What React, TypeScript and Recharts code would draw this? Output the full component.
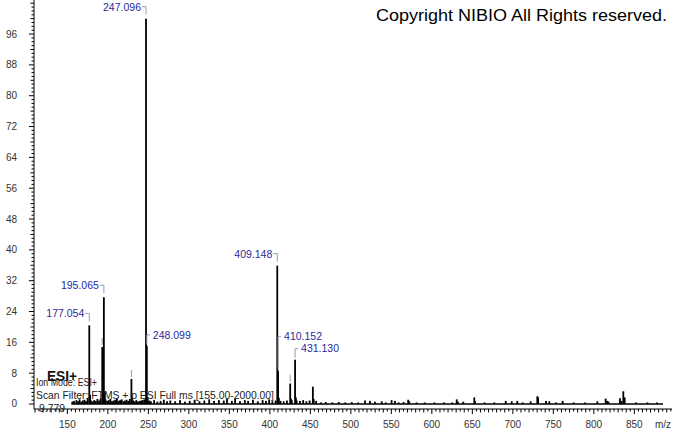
import React from "react";
import { Bar, BarChart, ReferenceLine, XAxis, YAxis } from "recharts";

// m/z of every centroid peak in the scan
const peakMz = [
  156.1, 158.1, 161.1, 163.1, 165.1, 167.1, 169.1, 171.1, 173.1, 175.07,
  177.054, 178.06, 179.07, 181.1, 183.1, 185.1, 187.1, 189.1, 191.1, 193.07,
  194.07, 195.065, 196.07, 197.08, 199.1, 201.1, 203.1, 205.1, 207.1, 209.1,
  211.1, 213.1, 215.1, 217.1, 219.1, 221.1, 223.1, 225.1, 227.1, 229.08,
  230.08, 231.1, 233.1, 235.1, 237.1, 239.1, 241.1, 243.1, 245.1, 247.096,
  248.099, 249.1, 251.1, 253.1, 257.1, 261.1, 265.1, 269.1, 273.1, 277.1,
  283.1, 289.1, 295.1, 301.1, 307.1, 313.1, 319.1, 325.1, 331.1, 337.1,
  343.1, 347.1, 353.1, 357.1, 363.1, 369.1, 373.1, 379.1, 385.1, 391.1,
  395.1, 399.1, 403.1, 407.1, 409.148, 410.152, 411.15, 413.1, 417.1, 421.1,
  425.1, 426.1, 427.1, 431.13, 432.13, 433.1, 437.1, 441.1, 445.1, 449.1,
  453.1, 454.1, 457.1, 463.1, 469.1, 477.1, 485.1, 493.1, 501.1, 509.1,
  517.5, 523.6, 529.8, 538.1, 543.1, 550.3, 554.4, 559.1, 565.1, 570.8,
  572.1, 581.1, 591.1, 603.1, 615.1, 625.1, 630.7, 632.1, 638.8, 652.4,
  653.4, 665.1, 677.1, 691.2, 698.6, 705.5, 712.1, 722.0, 730.2, 731.2,
  741.0, 745.0, 753.1, 761.5, 775.1, 789.1, 804.3, 814.6, 816.6, 818.1,
  832.3, 834.1, 836.4, 838.1, 852.1, 866.1, 878.1,
];

// relative abundance (%)
const peakIntensity = [
  0.6, 0.8, 1.0, 0.7, 1.2, 0.6, 0.9, 1.1, 0.7, 1.6,
  20.4, 2.4, 0.9, 0.7, 1.0, 0.8, 1.3, 0.9, 1.4, 14.8,
  2.0, 27.7, 3.2, 1.2, 0.8, 1.0, 1.3, 0.7, 0.9, 1.1,
  1.4, 0.8, 1.0, 1.2, 0.7, 0.9, 1.1, 0.8, 1.3, 6.5,
  1.5, 0.9, 0.7, 1.0, 0.6, 0.8, 0.9, 1.0, 1.2, 100,
  15.1, 1.8, 0.9, 0.7, 1.0, 0.6, 0.8, 1.1, 0.7, 0.9,
  0.7, 1.0, 0.6, 0.8, 1.1, 0.7, 0.9, 1.2, 0.8, 1.0,
  0.9, 1.3, 0.8, 1.4, 0.7, 1.0, 0.8, 1.1, 0.7, 1.0,
  0.8, 1.2, 0.7, 0.9, 35.9, 8.6, 1.6, 0.8, 0.7, 0.9,
  5.3, 1.4, 1.0, 11.5, 1.7, 0.9, 0.8, 1.0, 0.7, 0.9,
  4.5, 1.3, 0.8, 0.4, 0.5, 0.4, 0.5, 0.4, 0.5, 0.4,
  0.9, 0.8, 0.6, 0.7, 0.4, 1.0, 0.8, 0.4, 0.5, 1.1,
  0.7, 0.4, 0.4, 0.4, 0.4, 0.4, 1.2, 0.6, 0.6, 1.7,
  0.7, 0.4, 0.4, 0.8, 0.7, 0.8, 0.4, 0.7, 2.0, 1.7,
  0.8, 0.7, 0.4, 0.8, 0.4, 0.4, 0.7, 1.4, 0.8, 0.6,
  1.5, 0.8, 3.3, 1.7, 0.4, 0.4, 0.4,
];

const labelsLeft = ["177.054", "195.065", "247.096", "409.148"];
const labelsRight = ["248.099", "410.152", "431.130"];
const markedPeaks = ["193.070", "229.080", "425.100"];

const xTickLabels = [150, 200, 250, 300, 350, 400, 450, 500, 550, 600, 650, 700, 750, 800, 850];
const yTickLabels = [0, 8, 16, 24, 32, 40, 48, 56, 64, 72, 80, 88, 96];

const scanRange = [155, 885.4];

// minor ticks
const xTicks: number[] = [];
for (let v = 110; v <= 895; v += 5) xTicks.push(v);
const yTicks: number[] = [];
for (let v = 0; v <= 104; v += 1) yTicks.push(v);

const data = peakMz.map((mz, i) => ({ mz, intensity: peakIntensity[i] }));

const FONT = "Arial, 'Liberation Sans', sans-serif";
const LABEL_COLOR = "#2a2a9c";
const BRACKET_COLOR = "#9898b0";
const labelLift: Record<string, number> = { "410.152": 23.5 };

function PeakShape(props: any) {
  const { x, y, width, height, payload } = props;
  if (x == null || y == null) return null;
  const cx = x + width / 2;
  const top = y;
  const key = payload.mz.toFixed(3);
  const parts: React.ReactNode[] = [
    <rect key="b" x={cx - 0.9} y={top} width={1.8} height={Math.max(height, 0)} fill="#000" />,
  ];
  if (labelsLeft.includes(key)) {
    parts.push(
      <polyline
        key="l"
        points={`${cx - 4},${top - 12} ${cx},${top - 12} ${cx},${top - 4}`}
        fill="none"
        stroke={BRACKET_COLOR}
      />,
      <text key="t" x={cx - 5} y={top - 8} textAnchor="end" fontSize={10.5} fontFamily={FONT} fill={LABEL_COLOR}>
        {key}
      </text>
    );
  }
  if (labelsRight.includes(key)) {
    const ly = top - 11 - (labelLift[key] ?? 0);
    parts.push(
      <polyline
        key="l"
        points={`${cx},${top - 2} ${cx},${ly} ${cx + 3},${ly}`}
        fill="none"
        stroke={BRACKET_COLOR}
      />,
      <text key="t" x={cx + 6} y={ly + 3.8} fontSize={10.5} fontFamily={FONT} fill={LABEL_COLOR}>
        {key}
      </text>
    );
  }
  if (markedPeaks.includes(key)) {
    parts.push(<line key="m" x1={cx} x2={cx} y1={top - 9} y2={top - 2} stroke={BRACKET_COLOR} />);
  }
  return <g>{parts}</g>;
}

function XTick(props: any) {
  const { x, y, payload } = props;
  const v = payload.value;
  const major = xTickLabels.includes(v);
  return (
    <g>
      <line x1={x} x2={x} y1={y} y2={y + (major ? 5 : v % 10 === 0 ? 3.5 : 2.5)} stroke="#000" />
      {major && (
        <text x={x} y={y + 19} textAnchor="middle" fontSize={10} fontFamily={FONT} fill="#333">
          {v}
        </text>
      )}
    </g>
  );
}

function YTick(props: any) {
  const { x, y, payload } = props;
  const v = payload.value;
  const major = yTickLabels.includes(v);
  const len = major ? 5 : v % 4 === 0 ? 3.5 : 2.5;
  return (
    <g>
      <line x1={x - len} x2={x} y1={y} y2={y} stroke="#000" />
      {major && (
        <text x={x - 17} y={y + 3.5} textAnchor="end" fontSize={10} fontFamily={FONT} fill="#333">
          {v}
        </text>
      )}
    </g>
  );
}

export default function App() {
  return (
    <div style={{ position: "absolute", left: 0, top: 0, width: 673, height: 433, background: "#fff" }}>
      <BarChart width={673} height={433} data={data} margin={{ top: 0, right: 1, left: 0, bottom: 0 }}>
        <XAxis
          type="number"
          dataKey="mz"
          domain={[108.8, 896.5]}
          ticks={xTicks}
          interval={0}
          tick={<XTick />}
          tickLine={false}
          tickSize={0}
          tickMargin={0}
          axisLine={{ stroke: "#000" }}
          height={24}
        />
        <YAxis
          type="number"
          domain={[-1.3, 104.84]}
          ticks={yTicks}
          interval={0}
          tick={<YTick />}
          tickLine={false}
          tickSize={0}
          tickMargin={0}
          axisLine={{ stroke: "#000" }}
          width={34}
        />
        <ReferenceLine
          segment={[
            { x: scanRange[0], y: 0 },
            { x: scanRange[1], y: 0 },
          ]}
          stroke="#000"
          strokeWidth={1.6}
          ifOverflow="visible"
        />
        <Bar dataKey="intensity" shape={<PeakShape />} isAnimationActive={false} />
      </BarChart>
      <svg
        width={673}
        height={433}
        style={{ position: "absolute", left: 0, top: 0, pointerEvents: "none" }}
        fontFamily={FONT}
      >
        <text x={376} y={20.5} fontSize={16} textLength={291} lengthAdjust="spacingAndGlyphs" fill="#000">
          Copyright NIBIO All Rights reserved.
        </text>
        <text x={47} y={380.5} fontSize={14.5} fontWeight="bold" textLength={30} lengthAdjust="spacingAndGlyphs" fill="#111">
          ESI+
        </text>
        <text x={36} y={386} fontSize={11} textLength={61} lengthAdjust="spacingAndGlyphs" fill="#222">
          Ion Mode: ESI+
        </text>
        <text x={36} y={398.5} fontSize={11} textLength={238} lengthAdjust="spacingAndGlyphs" fill="#222">
          Scan Filter: FTMS + p ESI Full ms [155.00-2000.00]
        </text>
        <text x={39} y={412} fontSize={11} textLength={26} lengthAdjust="spacingAndGlyphs" fill="#222">
          9.779
        </text>
        <text x={663} y={428} fontSize={10} textAnchor="middle" fill="#333">
          m/z
        </text>
      </svg>
    </div>
  );
}
